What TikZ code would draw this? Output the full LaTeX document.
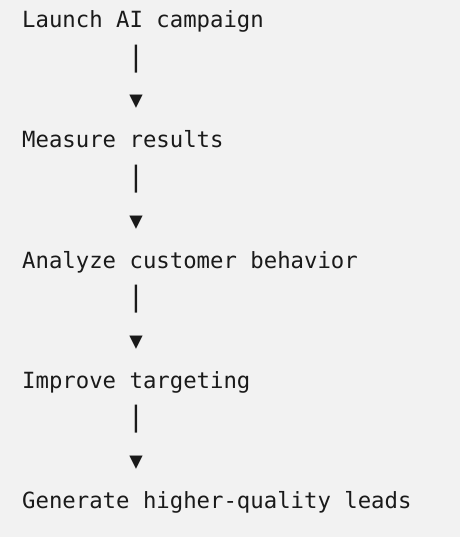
\documentclass[tikz,border=0pt]{standalone}
\usepackage{fontspec}
\setmonofont{DejaVu Sans Mono}
\definecolor{paper}{HTML}{F2F2F2}
\definecolor{ink}{HTML}{1A1A1A}
\tikzset{
	step text/.style={anchor=base west, inner sep=0pt, text=ink, font=\ttfamily\fontsize{22.3bp}{40bp}\selectfont},
	link text/.style={anchor=base, inner sep=0pt, text=ink, font=\ttfamily\fontsize{22.3bp}{40bp}\selectfont},
	bar text/.style={anchor=base, inner sep=0pt, text=ink, font=\ttfamily\fontsize{28bp}{40bp}\selectfont}
}
\begin{document}
\begin{tikzpicture}[x=1bp, y=-1bp]
	\fill[paper] (0, 0) rectangle (460, 537);
	\useasboundingbox (0, 0) rectangle (460, 537);
	% steps
	\node[step text] at (22, 28)   (launch) {Launch AI campaign};
	\node[step text] at (22, 148)  (measure) {Measure results};
	\node[step text] at (22, 268)  (analyze) {Analyze customer behavior};
	\node[step text] at (22, 388)  (improve) {Improve targeting};
	\node[step text] at (22, 508)  (generate) {Generate higher-quality leads};
	% bars and heads
	\node[bar text] at (136, 66.5)  (bar1) {|};
	\node[link text] at (136, 108) (head1) {▼};
	\node[bar text] at (136, 186.5) (bar2) {|};
	\node[link text] at (136, 228) (head2) {▼};
	\node[bar text] at (136, 306.5) (bar3) {|};
	\node[link text] at (136, 348) (head3) {▼};
	\node[bar text] at (136, 426.5) (bar4) {|};
	\node[link text] at (136, 468) (head4) {▼};
\end{tikzpicture}
\end{document}
